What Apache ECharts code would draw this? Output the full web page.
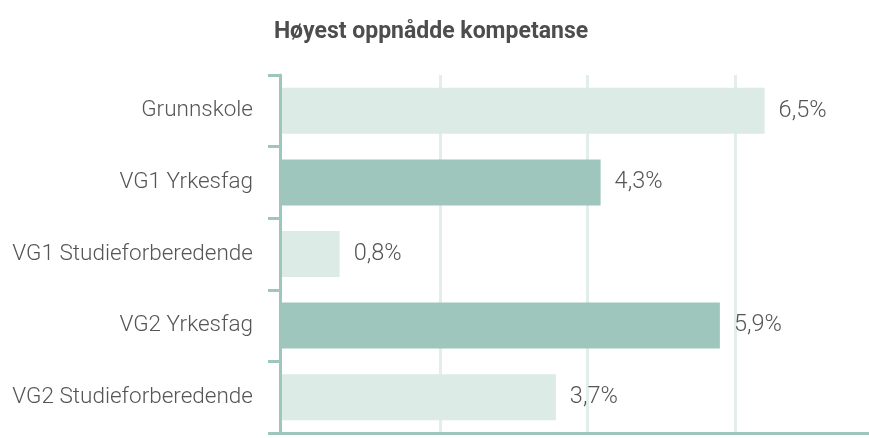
<!DOCTYPE html>
<html>
<head>
<meta charset="utf-8">
<script src="https://cdn.jsdelivr.net/npm/echarts@6/dist/echarts.min.js"></script>
<style>
  html, body { margin: 0; padding: 0; background: #fff; }
  #chart { width: 869px; height: 438px; }
</style>
</head>
<body>
<div id="chart"></div>
<script>
// kategorier og verdier (prosent)
var categories = ['Grunnskole', 'VG1 Yrkesfag', 'VG1 Studieforberedende', 'VG2 Yrkesfag', 'VG2 Studieforberedende'];
var values = [6.5, 4.3, 0.8, 5.9, 3.7];

var lightColor = '#ddebe7';
var darkColor = '#9fc6bc';
var axisColor = '#9fc6bc';
var gridColor = '#e1eeea';
var textColor = '#555555';

function initChart() {
    var myChart = echarts.init(document.getElementById('chart'));

    var option = {
        animation: false,
        title: {
            text: 'Høyest oppnådde kompetanse',
            left: 426,
            top: 16,
            textAlign: 'center',
            textStyle: {
                fontFamily: 'Roboto',
                fontSize: 23,
                fontWeight: 'bold',
                color: '#4d4d4d'
            }
        },
        grid: [
            { left: 280, right: 0, top: 75, bottom: 5 },
            // eget rutenett bare for de loddrette hjelpelinjene
            { left: 292.5, right: 0, top: 75, bottom: 5 }
        ],
        xAxis: [
            {
                type: 'value',
                gridIndex: 0,
                min: 0,
                max: 7.9,
                axisLine: { show: true, lineStyle: { color: axisColor, width: 3 } },
                axisTick: { show: false },
                axisLabel: { show: false },
                splitLine: { show: false }
            },
            {
                type: 'value',
                gridIndex: 1,
                min: 0,
                max: 7.82,
                interval: 2,
                axisLine: { show: false },
                axisTick: { show: false },
                axisLabel: { show: false },
                splitLine: {
                    show: true,
                    showMinLine: false,
                    showMaxLine: false,
                    lineStyle: { color: gridColor, width: 3 }
                }
            }
        ],
        yAxis: [
            {
                type: 'category',
                gridIndex: 0,
                inverse: true,
                data: categories,
                z: 5,
                axisLine: { show: true, lineStyle: { color: axisColor, width: 3 } },
                axisTick: { show: true, length: 12, lineStyle: { color: axisColor, width: 3 } },
                axisLabel: {
                    margin: 27,
                    fontFamily: 'Roboto',
                    fontWeight: 300,
                    fontSize: 22.5,
                    color: textColor
                },
                splitLine: { show: false }
            },
            {
                type: 'category',
                gridIndex: 1,
                inverse: true,
                data: categories,
                show: false
            }
        ],
        series: [
            {
                type: 'bar',
                xAxisIndex: 0,
                yAxisIndex: 0,
                data: values,
                barWidth: 46,
                itemStyle: {
                    color: function (p) {
                        return p.dataIndex % 2 === 0 ? lightColor : darkColor;
                    }
                },
                label: {
                    show: true,
                    position: 'right',
                    distance: 14,
                    fontFamily: 'Roboto',
                    fontWeight: 300,
                    fontSize: 23.5,
                    color: textColor,
                    formatter: function (p) {
                        return p.value.toFixed(1).replace('.', ',') + '%';
                    }
                }
            }
        ]
    };

    myChart.setOption(option);
}

window.addEventListener('load', initChart);
</script>
</body>
</html>
